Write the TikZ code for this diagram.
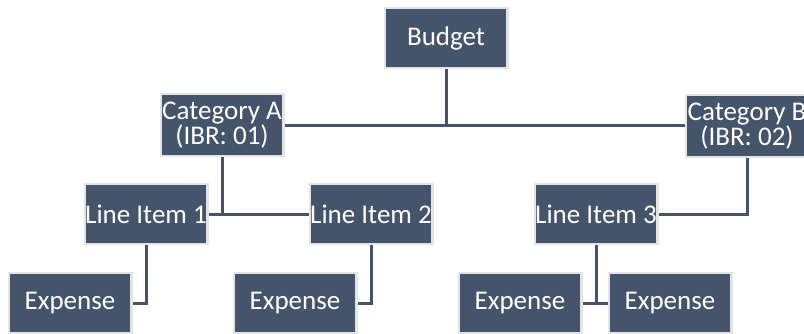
\documentclass[tikz,border=0pt]{standalone}
\usepackage{fontspec}
\setmainfont{Carlito}
\usetikzlibrary{calc,positioning}

\definecolor{slate}{HTML}{44546A}
\definecolor{rim}{HTML}{E4E4E4}

\begin{document}
\begin{tikzpicture}[x=1pt,y=1pt,
    box/.style={draw=rim, line width=2.5pt, fill=slate, text=white,
      minimum width=122.5pt, minimum height=60pt, inner sep=0pt,
      align=center, font=\fontsize{27}{25}\selectfont},
    link/.style={draw=slate, line width=3pt}]
    \useasboundingbox (0,0) rectangle (804,333);

    \node[box] (budget) at (446,295) {Budget};

    \node[box, minimum height=62pt] (catA) at (222,208) {Category A\\(IBR: 01)};
    \node[box, minimum height=62pt] (catB) at (747,207) {Category B\\(IBR: 02)};

    \node[box] (item1) at (146,119) {Line Item 1};
    \node[box] (item2) at (371,119) {Line Item 2};
    \node[box] (item3) at (596,119) {Line Item 3};

    \node[box] (exp1) at (70,30) {Expense};
    \node[box] (exp2) at (295,30) {Expense};
    \node[box] (exp3) at (520,30) {Expense};
    \node[box] (exp4) at (670,30) {Expense};

    \draw[link] (catA.east) -- (catA.east -| catB.west);
    \draw[link] (budget.south) -- (budget.south |- catA.east);

    \draw[link] (item1.east) -- (item2.west);
    \draw[link] (catA.south) -- (catA.south |- item1.east);
    \draw[link] (item3.east) -| (catB.south);

    \draw[link] (item1.south) |- (exp1.east);
    \draw[link] (item2.south) |- (exp2.east);
    \draw[link] (exp3.east) -- (exp4.west);
    \draw[link] (item3.south) -- (item3.south |- exp3.east);
\end{tikzpicture}
\end{document}
